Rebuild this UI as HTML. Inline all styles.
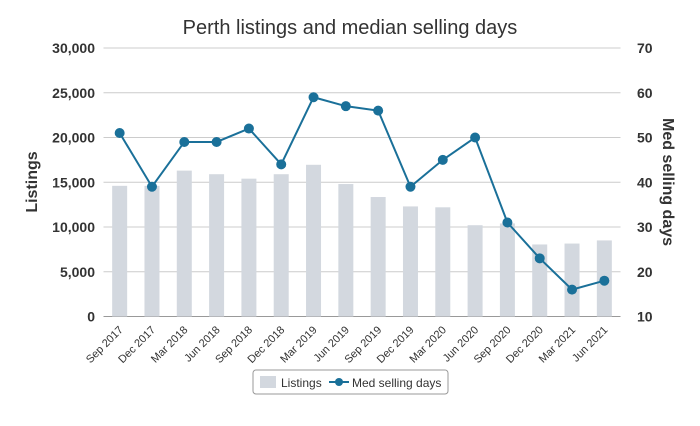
<!DOCTYPE html>
<html><head><meta charset="utf-8"><style>
body{margin:0;background:#fff;font-family:"Liberation Sans",Arial,sans-serif}
svg text{font-family:"Liberation Sans",Arial,sans-serif}
</style></head><body>
<svg id="chart" width="700" height="421">
<text x="350" y="34" text-anchor="middle" font-size="20" fill="#333">Perth listings and median selling days</text>
<g id="grid"></g><g id="bars"></g><g id="line"></g><g id="axes"></g>
<text transform="translate(37,182) rotate(-90)" text-anchor="middle" font-size="16" font-weight="bold" fill="#333">Listings</text>
<text transform="translate(663,182) rotate(90)" text-anchor="middle" font-size="16" font-weight="bold" fill="#333">Med selling days</text>
<g>
<rect x="253" y="370" width="195" height="24" rx="3" fill="#fff" stroke="#999"/>
<rect x="260" y="376" width="16" height="12" fill="#d3d8df"/>
<text x="281" y="387" font-size="12" fill="#333">Listings</text>
<line x1="329" y1="382" x2="349" y2="382" stroke="#1a7099" stroke-width="2"/>
<circle cx="339" cy="382" r="4" fill="#1a7099"/>
<text x="352" y="387" font-size="12" fill="#333">Med selling days</text>
</g>
</svg>
<script>
const categories=["Sep 2017","Dec 2017","Mar 2018","Jun 2018","Sep 2018","Dec 2018","Mar 2019","Jun 2019","Sep 2019","Dec 2019","Mar 2020","Jun 2020","Sep 2020","Dec 2020","Mar 2021","Jun 2021"];
const listings=[14600,14600,16300,15900,15400,15900,16950,14800,13350,12300,12200,10200,10400,8050,8150,8500];
const medDays=[51,39,49,49,52,44,59,57,56,39,45,50,31,23,16,18];
const leftTicks=[0,5000,10000,15000,20000,25000,30000];
const rightTicks=[10,20,30,40,50,60,70];
const NS="http://www.w3.org/2000/svg";
const L=103.5,R=620.5,T=48,B=316.5;
const bw=(R-L)/categories.length;
const xC=i=>L+bw*(i+0.5);
const yL=v=>B-(v/30000)*(B-T);
const yR=v=>B-((v-10)/60)*(B-T);
function mk(tag,attrs,parent){const e=document.createElementNS(NS,tag);for(const k in attrs)e.setAttribute(k,attrs[k]);document.getElementById(parent).appendChild(e);return e;}
leftTicks.forEach((t,i)=>{
 const g=mk("line",{x1:L,x2:R,y1:yL(t),y2:yL(t),stroke:i==0?"#999":"#ccc","stroke-width":1},"grid");
 
 
 const tx=mk("text",{x:95,y:yL(t)+5,"text-anchor":"end","font-size":14,"font-weight":"bold",fill:"#333"},"axes");
 tx.textContent=t.toLocaleString("en-US");
 
 
});
rightTicks.forEach(t=>{
 const tx=mk("text",{x:637,y:yR(t)+5,"font-size":14,"font-weight":"bold",fill:"#333"},"axes");
 tx.textContent=t;
 
 
});
categories.forEach((c,i)=>{
 const b=mk("rect",{x:xC(i)-7.5,y:yL(listings[i]),width:15,height:B-yL(listings[i]),fill:"#d3d8df"},"bars");
 
 
 const x=xC(i)+4,y=B+14;
 const tx=mk("text",{x:x,y:y,"text-anchor":"end","font-size":11,fill:"#333",transform:`rotate(-45 ${x} ${y})`},"axes");
 tx.textContent=c;
 
 
});
const pts=medDays.map((v,i)=>xC(i)+","+yR(v)).join(" ");
const pl=mk("polyline",{points:pts,fill:"none",stroke:"#1a7099","stroke-width":2},"line");


medDays.forEach((v,i)=>{
 const c=mk("circle",{cx:xC(i),cy:yR(v),r:5,fill:"#1a7099"},"line");
 
 
});
</script>
</body></html>
